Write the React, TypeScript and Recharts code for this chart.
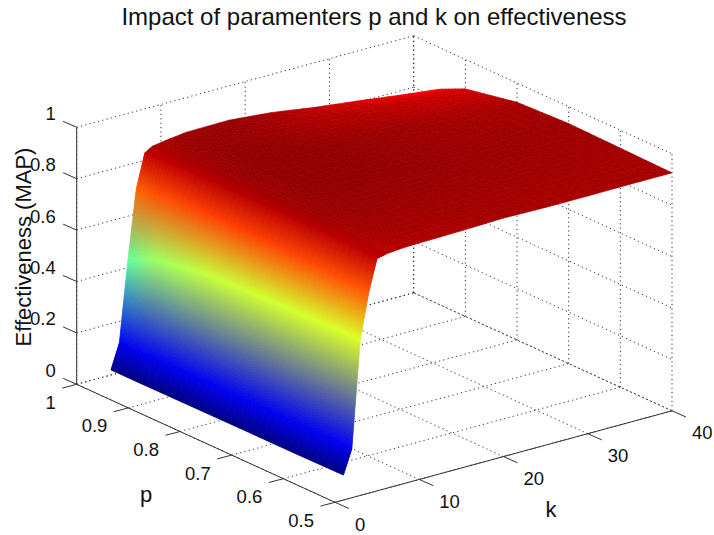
import * as React from 'react'
import { ComposedChart, Scatter, XAxis, YAxis } from 'recharts'

const WIDTH = 714
const HEIGHT = 535
const FONT = '"Liberation Sans", Arial, sans-serif'

const TITLE = 'Impact of paramenters p and k on effectiveness'
const K_TICKS = [0, 10, 20, 30, 40]
const P_TICKS = [1, 0.9, 0.8, 0.7, 0.6, 0.5]
const Z_TICKS = [0, 0.2, 0.4, 0.6, 0.8, 1]

// surface samples
const K_GRID = [1, 2, 3, 4, 5, 6, 8, 10, 15, 20, 25, 30, 35, 40]
const P_GRID = [0.5, 0.6, 0.7, 0.8, 0.9, 0.95]
const MAP_P50 = [0.097, 0.19, 0.605, 0.78, 0.905, 0.912, 0.918, 0.92, 0.923, 0.928, 0.925, 0.925, 0.926, 0.926]
const MAP_P60 = [0.095, 0.19, 0.6, 0.79, 0.91, 0.925, 0.932, 0.935, 0.935, 0.935, 0.934, 0.933, 0.932, 0.93]
const MAP_P70 = [0.095, 0.19, 0.595, 0.8, 0.91, 0.93, 0.94, 0.942, 0.943, 0.94, 0.938, 0.936, 0.935, 0.934]
const MAP_P80 = [0.094, 0.19, 0.585, 0.8, 0.91, 0.93, 0.94, 0.945, 0.945, 0.94, 0.935, 0.93, 0.925, 0.925]
const MAP_P90 = [0.093, 0.19, 0.55, 0.79, 0.905, 0.925, 0.935, 0.94, 0.935, 0.925, 0.915, 0.905, 0.895, 0.885]
const MAP_P95 = [0.093, 0.19, 0.5, 0.77, 0.9, 0.92, 0.93, 0.938, 0.94, 0.925, 0.9, 0.88, 0.858, 0.838]
const MAP_ROWS = [MAP_P50, MAP_P60, MAP_P70, MAP_P80, MAP_P90, MAP_P95]

type Pt = { x: number; y: number }
type Rgb = [number, number, number]

// MATLAB's orthographic view of the box, in chart units (the axes below map 1 unit to 1px)
function project(k: number, p: number, z: number): Pt {
  const u = (1 - p) / 0.5
  const v = k / 40
  return {
    x: 76.7 + u * 258.3 + v * 337,
    y: 384.3 + u * 118 - v * 91.5 - z * 257,
  }
}

// colour limits sit just past the surface's range, the plateau never reaches the darkest red
const zMin = Math.min(...MAP_ROWS.flat())
const zMax = 0.96

function jet(z: number): Rgb {
  const t = (z - zMin) / (zMax - zMin)
  const ch = (c: number) => Math.max(0, Math.min(1, 1.5 - Math.abs(4 * t - c))) * 255
  return [ch(3), ch(2), ch(1)]
}

const mix = (a: number, b: number, t: number) => a + (b - a) * t

// vertex colours are blended in RGB across each cell, like shading interp
function buildFacets() {
  const facets: (Pt & { corners: Pt[]; fill: string })[] = []
  for (let i = P_GRID.length - 2; i >= 0; i--) {
    for (let j = K_GRID.length - 2; j >= 0; j--) {
      const nk = K_GRID[j] < 6 ? 40 : 4
      const np = 8
      const z00 = MAP_ROWS[i][j]
      const z01 = MAP_ROWS[i][j + 1]
      const z10 = MAP_ROWS[i + 1][j]
      const z11 = MAP_ROWS[i + 1][j + 1]
      const c00 = jet(z00)
      const c01 = jet(z01)
      const c10 = jet(z10)
      const c11 = jet(z11)
      const at = (a: number, b: number): Pt =>
        project(
          mix(K_GRID[j], K_GRID[j + 1], b),
          mix(P_GRID[i], P_GRID[i + 1], a),
          mix(mix(z00, z01, b), mix(z10, z11, b), a),
        )
      for (let a = np - 1; a >= 0; a--) {
        for (let b = nk - 1; b >= 0; b--) {
          const ca = (a + 0.5) / np
          const cb = (b + 0.5) / nk
          const rgb = [0, 1, 2].map((n) =>
            Math.round(mix(mix(c00[n], c01[n], cb), mix(c10[n], c11[n], cb), ca)),
          )
          const corners = [
            at(a / np, b / nk),
            at(a / np, (b + 1) / nk),
            at((a + 1) / np, (b + 1) / nk),
            at((a + 1) / np, b / nk),
          ]
          facets.push({ ...corners[0], corners, fill: `rgb(${rgb.join(',')})` })
        }
      }
    }
  }
  return facets
}

function FacetShape({ cx, cy, payload }: any) {
  const base = payload as Pt & { corners: Pt[]; fill: string }
  const d = base.corners.map((c) => `${cx + c.x - base.x},${cy + c.y - base.y}`).join(' ')
  return <polygon points={d} fill={base.fill} stroke={base.fill} strokeWidth={0.7} />
}

function TextShape({ cx, cy, payload }: any) {
  return (
    <text
      x={cx}
      y={cy}
      textAnchor={payload.anchor}
      dominantBaseline="central"
      fontFamily={FONT}
      fontSize={payload.size}
      fill="#111"
      transform={payload.rotate ? `rotate(-90 ${cx} ${cy})` : undefined}
    >
      {payload.text}
    </text>
  )
}

const NoMark = () => <g />

const offset = (a: Pt, dx: number, dy: number): Pt => ({ x: a.x + dx, y: a.y + dy })

const gridLines: Pt[][] = [
  ...Z_TICKS.flatMap((z) => [
    [project(0, 1, z), project(40, 1, z)],
    [project(40, 1, z), project(40, 0.5, z)],
  ]),
  ...K_TICKS.flatMap((k) => [
    [project(k, 0.5, 0), project(k, 1, 0)],
    [project(k, 1, 0), project(k, 1, 1)],
  ]),
  ...P_TICKS.flatMap((p) => [
    [project(0, p, 0), project(40, p, 0)],
    [project(40, p, 0), project(40, p, 1)],
  ]),
]

const axisLines: Pt[][] = [
  [project(0, 1, 0), project(0, 1, 1)],
  [project(0, 1, 0), project(0, 0.5, 0)],
  [project(0, 0.5, 0), project(40, 0.5, 0)],
  ...Z_TICKS.map((z) => [project(0, 1, z), offset(project(0, 1, z), -13.6, -6)]),
  ...P_TICKS.map((p) => [project(0, p, 0), offset(project(0, p, 0), -14.5, 3.8)]),
  ...K_TICKS.map((k) => [project(k, 0.5, 0), offset(project(k, 0.5, 0), 14, 6.2)]),
]

const labels = [
  { x: 374, y: 16, text: TITLE, anchor: 'middle', size: 24 },
  { x: 23, y: 247, text: 'Effectiveness (MAP)', anchor: 'middle', size: 22, rotate: true },
  { x: 146, y: 494, text: 'p', anchor: 'middle', size: 22 },
  { x: 551, y: 509, text: 'k', anchor: 'middle', size: 22 },
  ...Z_TICKS.map((z) => ({ ...offset(project(0, 1, z), -21, -14), text: String(z), anchor: 'end', size: 18.5 })),
  ...P_TICKS.map((p) => ({ ...offset(project(0, p, 0), -21, 18), text: String(p), anchor: 'end', size: 18.5 })),
  ...K_TICKS.map((k) => ({ ...offset(project(k, 0.5, 0), 20, 22), text: String(k), anchor: 'start', size: 18.5 })),
]

const facets = buildFacets()

export default function App() {
  return (
    <div style={{ position: 'absolute', left: 0, top: 0, width: WIDTH, height: HEIGHT, background: '#fff' }}>
      <ComposedChart width={WIDTH} height={HEIGHT} margin={{ top: 0, right: 0, bottom: 0, left: 0 }}>
        <XAxis type="number" dataKey="x" domain={[0, WIDTH]} hide allowDataOverflow />
        <YAxis type="number" dataKey="y" domain={[0, HEIGHT]} reversed hide allowDataOverflow />
        {gridLines.map((seg, i) => (
          <Scatter
            key={`grid-${i}`}
            data={seg}
            shape={NoMark}
            line={{ stroke: '#1a1a1a', strokeWidth: 0.9, strokeDasharray: '1.2 3.2' }}
            isAnimationActive={false}
          />
        ))}
        {axisLines.map((seg, i) => (
          <Scatter
            key={`axis-${i}`}
            data={seg}
            shape={NoMark}
            line={{ stroke: '#333', strokeWidth: 1 }}
            isAnimationActive={false}
          />
        ))}
        <Scatter data={facets} shape={FacetShape} isAnimationActive={false} />
        <Scatter data={labels} shape={TextShape} isAnimationActive={false} />
      </ComposedChart>
    </div>
  )
}
